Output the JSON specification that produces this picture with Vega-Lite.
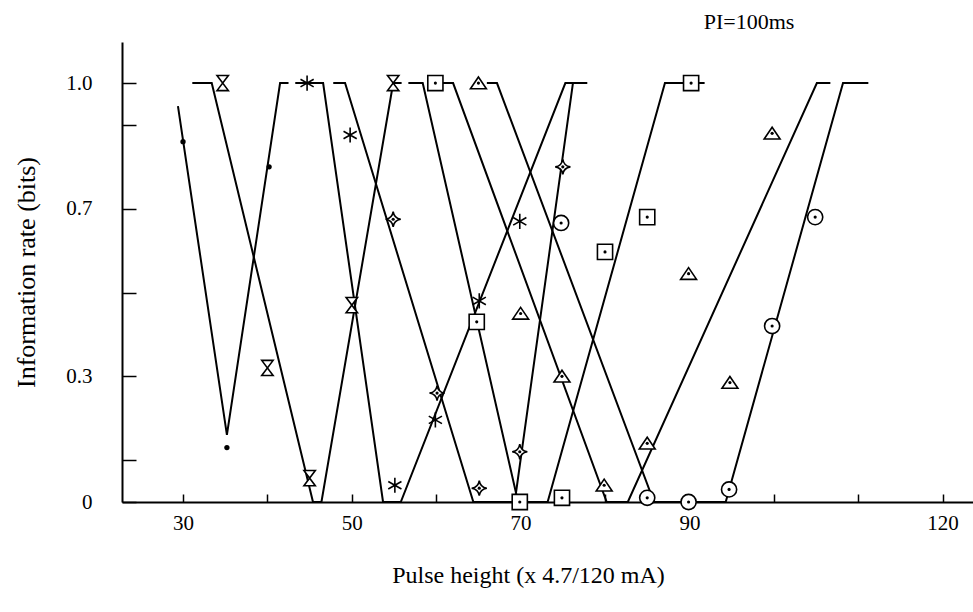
{
  "$schema": "https://vega.github.io/schema/vega-lite/v6.json",
  "width": 851,
  "height": 460,
  "autosize": "none",
  "padding": {"left": 122, "top": 42, "right": 0, "bottom": 110},
  "background": "white",
  "config": {
    "font": "Liberation Serif",
    "view": {"stroke": null},
    "axis": {"domainColor": "black", "tickColor": "black", "labelColor": "black", "titleColor": "black", "grid": false, "labelFont": "Liberation Serif", "titleFont": "Liberation Serif", "labelFontSize": 21, "titleFontSize": 24, "titleFontWeight": "normal", "domainWidth": 2, "tickWidth": 1.5}
  },
  "title": {"text": "PI=100ms", "anchor": "start", "dx": 690, "offset": 8, "fontSize": 22, "fontWeight": "normal", "font": "Liberation Serif", "color": "black"},
  "datasets": {
    "lines": [
      {"s": "dot", "i": 1, "x": 29.4, "y": 0.945},
      {"s": "dot", "i": 2, "x": 35.2, "y": 0.16},
      {"s": "dot", "i": 3, "x": 41.5, "y": 1.0},
      {"s": "dot", "i": 4, "x": 42.5, "y": 1.0},
      {"s": "hourglass", "i": 1, "x": 31.1, "y": 1.0},
      {"s": "hourglass", "i": 2, "x": 33.4, "y": 1.0},
      {"s": "hourglass", "i": 3, "x": 45.4, "y": 0},
      {"s": "hourglass", "i": 4, "x": 46.4, "y": 0},
      {"s": "hourglass", "i": 5, "x": 54.9, "y": 1.0},
      {"s": "hourglass", "i": 6, "x": 55.9, "y": 1.0},
      {"s": "asterisk", "i": 1, "x": 43.3, "y": 1.0},
      {"s": "asterisk", "i": 2, "x": 46.6, "y": 1.0},
      {"s": "asterisk", "i": 3, "x": 53.7, "y": 0},
      {"s": "asterisk", "i": 4, "x": 55.8, "y": 0},
      {"s": "asterisk", "i": 5, "x": 75.3, "y": 1.0},
      {"s": "asterisk", "i": 6, "x": 77.9, "y": 1.0},
      {"s": "star", "i": 1, "x": 47.8, "y": 1.0},
      {"s": "star", "i": 2, "x": 49.2, "y": 1.0},
      {"s": "star", "i": 3, "x": 64.4, "y": 0},
      {"s": "star", "i": 4, "x": 69.3, "y": 0},
      {"s": "star", "i": 5, "x": 76.2, "y": 1.0},
      {"s": "square", "i": 1, "x": 56.7, "y": 1.0},
      {"s": "square", "i": 2, "x": 58.4, "y": 1.0},
      {"s": "square", "i": 3, "x": 69.7, "y": 0},
      {"s": "square", "i": 4, "x": 73.2, "y": 0},
      {"s": "square", "i": 5, "x": 87.1, "y": 1.0},
      {"s": "square", "i": 6, "x": 91.8, "y": 1.0},
      {"s": "triangle", "i": 1, "x": 60.8, "y": 1.0},
      {"s": "triangle", "i": 2, "x": 62.0, "y": 1.0},
      {"s": "triangle", "i": 3, "x": 80.2, "y": 0},
      {"s": "triangle", "i": 4, "x": 82.7, "y": 0},
      {"s": "triangle", "i": 5, "x": 105.1, "y": 1.0},
      {"s": "triangle", "i": 6, "x": 106.7, "y": 1.0},
      {"s": "circle", "i": 1, "x": 66.0, "y": 1.0},
      {"s": "circle", "i": 2, "x": 67.2, "y": 1.0},
      {"s": "circle", "i": 3, "x": 85.8, "y": 0},
      {"s": "circle", "i": 4, "x": 94.3, "y": 0},
      {"s": "circle", "i": 5, "x": 108.2, "y": 1.0},
      {"s": "circle", "i": 6, "x": 111.2, "y": 1.0}
    ],
    "points": [
      {"s": "dot", "x": 30.0, "y": 0.86},
      {"s": "dot", "x": 35.2, "y": 0.13},
      {"s": "dot", "x": 40.2, "y": 0.80},
      {"s": "hourglass", "x": 34.7, "y": 1.0},
      {"s": "hourglass", "x": 40.0, "y": 0.32},
      {"s": "hourglass", "x": 45.0, "y": 0.057},
      {"s": "hourglass", "x": 50.0, "y": 0.47},
      {"s": "hourglass", "x": 54.9, "y": 1.0},
      {"s": "asterisk", "x": 44.7, "y": 1.0},
      {"s": "asterisk", "x": 49.8, "y": 0.876},
      {"s": "asterisk", "x": 55.1, "y": 0.04},
      {"s": "asterisk", "x": 59.9, "y": 0.196},
      {"s": "asterisk", "x": 65.1, "y": 0.48},
      {"s": "asterisk", "x": 69.9, "y": 0.67},
      {"s": "star", "x": 54.9, "y": 0.675},
      {"s": "star", "x": 60.1, "y": 0.26},
      {"s": "star", "x": 65.1, "y": 0.033},
      {"s": "star", "x": 69.9, "y": 0.12},
      {"s": "star", "x": 75.0, "y": 0.80},
      {"s": "square", "x": 59.9, "y": 1.0},
      {"s": "square", "x": 64.8, "y": 0.43},
      {"s": "square", "x": 69.9, "y": 0.0},
      {"s": "square", "x": 74.9, "y": 0.01},
      {"s": "square", "x": 80.0, "y": 0.597},
      {"s": "square", "x": 85.0, "y": 0.68},
      {"s": "square", "x": 90.2, "y": 1.0},
      {"s": "triangle", "x": 65.0, "y": 1.0},
      {"s": "triangle", "x": 70.0, "y": 0.45},
      {"s": "triangle", "x": 74.9, "y": 0.30},
      {"s": "triangle", "x": 79.9, "y": 0.04},
      {"s": "triangle", "x": 85.0, "y": 0.14},
      {"s": "triangle", "x": 89.9, "y": 0.545},
      {"s": "triangle", "x": 94.8, "y": 0.285},
      {"s": "triangle", "x": 99.8, "y": 0.88},
      {"s": "circle", "x": 74.8, "y": 0.666},
      {"s": "circle", "x": 85.0, "y": 0.01},
      {"s": "circle", "x": 89.9, "y": 0.0},
      {"s": "circle", "x": 94.7, "y": 0.03},
      {"s": "circle", "x": 99.8, "y": 0.42},
      {"s": "circle", "x": 104.9, "y": 0.68}
    ]
  },
  "encoding": {
    "x": {"field": "x", "type": "quantitative", "scale": {"domain": [22.77, 123.6], "nice": false, "zero": false},
      "axis": {"values": [30, 40, 50, 60, 70, 80, 90, 100, 110, 120], "labelExpr": "indexof([30,50,70,90,120], datum.value) >= 0 ? datum.label : ''", "tickSize": -8, "labelPadding": 18, "title": "Pulse height (x 4.7/120 mA)", "titlePadding": 30, "titleX": 406}},
    "y": {"field": "y", "type": "quantitative", "scale": {"domain": [0, 1.098], "nice": false, "zero": true},
      "axis": {"values": [0, 0.1, 0.3, 0.5, 0.7, 0.9, 1.0], "labelExpr": "datum.value == 0 ? '0' : (datum.value == 0.3 || datum.value == 0.7 || datum.value == 1) ? format(datum.value, '.1f') : ''", "tickSize": -14, "labelPadding": 44, "title": "Information rate (bits)", "titlePadding": 26, "titleFontSize": 26}}
  },
  "layer": [
    {
      "data": {"name": "lines"},
      "mark": {"type": "line", "color": "black", "strokeWidth": 2, "clip": true},
      "encoding": {"detail": {"field": "s"}, "order": {"field": "i", "type": "quantitative"}}
    },
    {
      "data": {"name": "points"},
      "transform": [{"filter": {"field": "s", "oneOf": ["hourglass", "star", "square", "triangle", "circle"]}}],
      "mark": {"type": "point", "filled": true, "fill": "white", "stroke": "black", "strokeWidth": 1.6, "size": 230, "opacity": 1},
      "encoding": {"shape": {"field": "s", "legend": null, "scale": {"domain": ["hourglass", "star", "square", "triangle", "circle"], "range": ["M-0.75,-1L0.75,-1L-0.75,1L0.75,1Z", "M0,-1Q0.12,-0.12 1,0Q0.12,0.12 0,1Q-0.12,0.12 -1,0Q-0.12,-0.12 0,-1Z", "square", "M0,-0.8L1.05,0.75L-1.05,0.75Z", "circle"]}}}
    },
    {
      "data": {"name": "points"},
      "transform": [{"filter": {"field": "s", "equal": "asterisk"}}],
      "mark": {"type": "point", "filled": false, "stroke": "black", "strokeWidth": 1.6, "size": 230, "shape": "M0,-1L0,1M-0.87,-0.5L0.87,0.5M-0.87,0.5L0.87,-0.5", "opacity": 1}
    },
    {
      "data": {"name": "points"},
      "transform": [{"filter": {"field": "s", "oneOf": ["star", "square", "triangle", "circle"]}}],
      "mark": {"type": "point", "filled": true, "color": "black", "size": 10, "opacity": 1}
    },
    {
      "data": {"name": "points"},
      "transform": [{"filter": {"field": "s", "equal": "dot"}}],
      "mark": {"type": "point", "filled": true, "color": "black", "size": 28, "opacity": 1}
    }
  ]
}
